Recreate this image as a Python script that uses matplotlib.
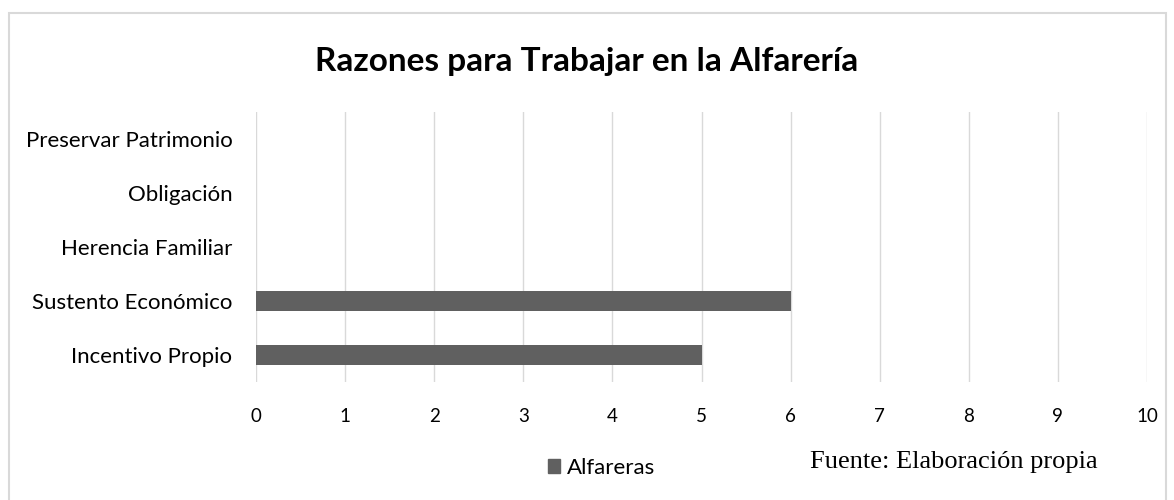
import matplotlib
matplotlib.use("Agg")
import matplotlib.pyplot as plt
from matplotlib.patches import Rectangle, Patch

categories = ["Incentivo Propio", "Sustento Económico", "Herencia Familiar", "Obligación", "Preservar Patrimonio"]
values = [5, 6, 0, 0, 0]
xticks = list(range(0, 11))
series_name = "Alfareras"
title = "Razones para Trabajar en la Alfarería"
source = "Fuente: Elaboración propia"

plt.rcParams['font.family'] = ['Lato', 'DejaVu Sans']

fig = plt.figure(figsize=(11.74, 5.0), dpi=100)
fig.patches.append(Rectangle((8.5/1174, -5/500), 1157/1174, 492/500, transform=fig.transFigure,
                             fill=False, edgecolor="#d9d9d9", linewidth=1.5))
ax = fig.add_axes([256/1174, 1-382/500, (1147-256)/1174, 270/500])
ypos = list(range(len(categories)))
ax.barh(ypos, values, height=0.37, color="#606060", linewidth=0, zorder=3)
ax.set_xlim(0, 10)
ax.set_ylim(-0.5, len(categories)-0.5)
ax.set_xticks(xticks)
ax.set_xticklabels([str(t) for t in xticks], fontsize=13.5)
ax.set_yticks(ypos)
ax.set_yticklabels(categories, fontsize=16)
ax.tick_params(axis='x', length=0, pad=19)
ax.tick_params(axis='y', length=0, pad=17)
ax.grid(axis='x', color="#d9d9d9", linewidth=1, zorder=0)
for s in ax.spines.values():
    s.set_visible(False)
fig.text(0.5, 1-61/500, title, ha='center', va='center', fontsize=24, fontweight='bold')
leg = fig.legend(handles=[Patch(facecolor="#606060", edgecolor="#606060")], labels=[series_name],
                 loc='center left', bbox_to_anchor=(548/1174, 1-468/500), frameon=False, fontsize=16,
                 handlelength=0.55, handleheight=0.55, handletextpad=0.3, borderpad=0, borderaxespad=0)
fig.text(810/1174, 1-468/500, source, ha='left', va='baseline', fontsize=19, family='Liberation Serif')
fig.savefig("out.png", dpi=100)
